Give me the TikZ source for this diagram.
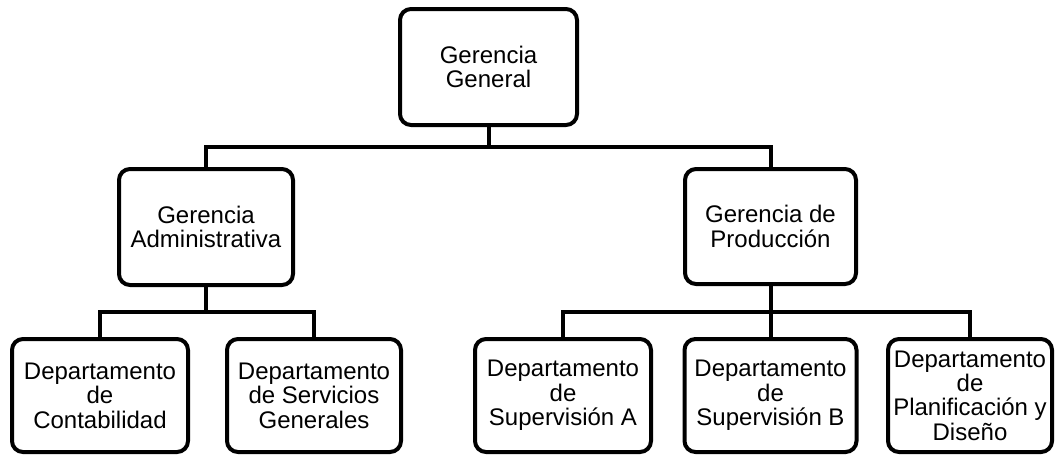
\documentclass[tikz,border=0pt]{standalone}
\usepackage{fontspec}
\setmainfont{Liberation Sans}
\begin{document}
\begin{tikzpicture}[x=1pt,y=-1pt,
  unit/.style={draw=black, line width=4pt, rounded corners=11pt, fill=white,
    align=center, inner sep=0pt,
    font=\fontsize{24}{24.4}\selectfont},
  conn/.style={draw=black, line width=4pt, line join=miter}]
  \useasboundingbox (0,0) rectangle (1057,456);

  % top management
  \node[unit, minimum width=177pt, minimum height=116pt] (gg) at (488.5,67) {Gerencia\\General};

  % second level
  \node[unit, minimum width=174pt, minimum height=116pt] (ga) at (206,227) {Gerencia\\Administrativa};
  \node[unit, minimum width=171pt, minimum height=115pt] (gp) at (770.5,226.5) {Gerencia de\\Producción};

  % departments
  \node[unit, minimum width=176pt, minimum height=113pt] (dc) at (100,395.5) {Departamento\\de\\Contabilidad};
  \node[unit, minimum width=174pt, minimum height=113pt] (ds) at (314,395.5) {Departamento\\de Servicios\\Generales};
  \node[unit, minimum width=176pt, minimum height=113pt] (da) at (563,395.5) {Departamento\\de\\Supervisión A};
  \node[unit, minimum width=172pt, minimum height=113pt] (db) at (770.5,395.5) {Departamento\\de\\Supervisión B};
  \node[unit, minimum width=164pt, minimum height=113pt] (dp) at (970,395.5) {Departamento\\de\\Planificación y\\Diseño};

  % bus points of the tree
  \coordinate (b1) at (488.5,147);
  \coordinate (b2) at (206,312);
  \coordinate (b3) at (770.5,312);

  \draw[conn] (gg.south) -- (b1);
  \draw[conn] (ga.north) |- (b1) -| (gp.north);

  \draw[conn] (ga.south) -- (b2);
  \draw[conn] (dc.north) |- (b2) -| (ds.north);

  \draw[conn] (gp.south) -- (b3) -- (db.north);
  \draw[conn] (da.north) |- (b3) -| (dp.north);
\end{tikzpicture}
\end{document}
